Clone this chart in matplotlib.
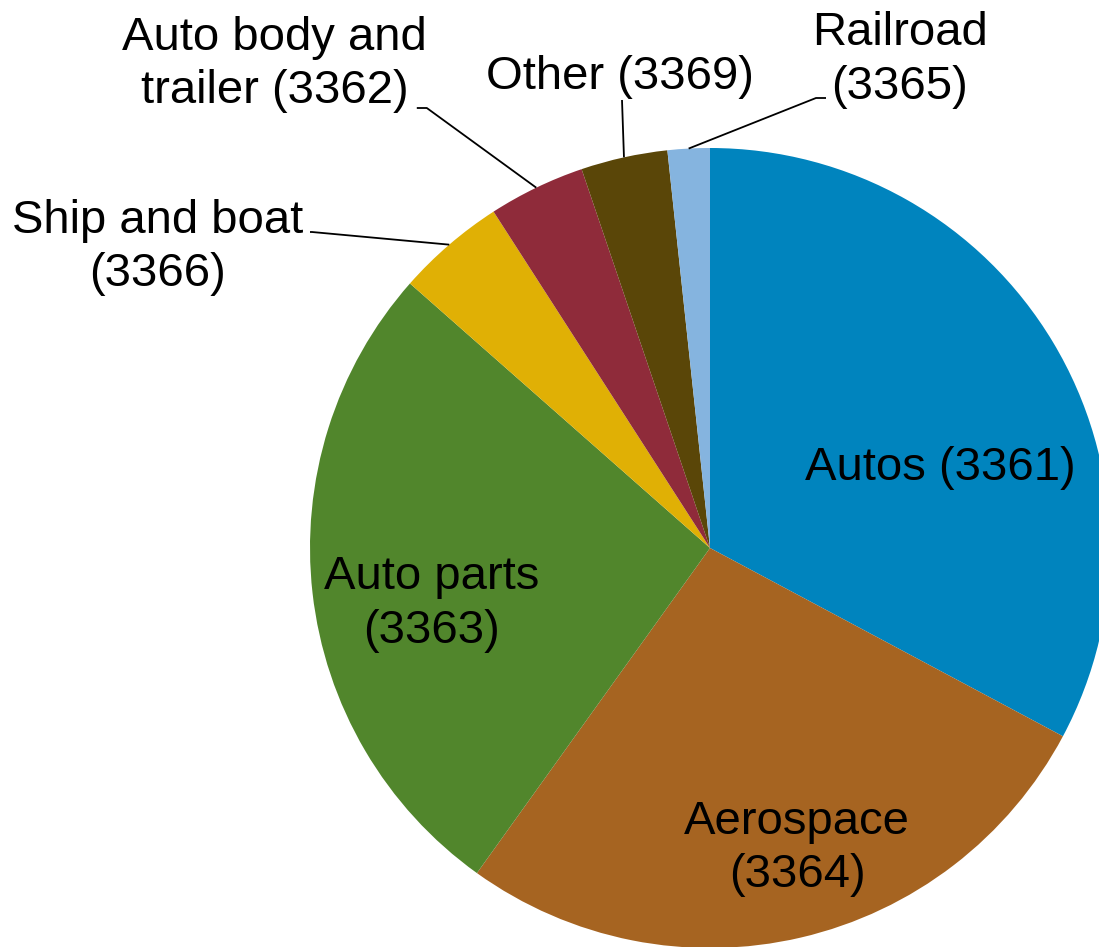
import numpy as np
import matplotlib
matplotlib.use('Agg')
import matplotlib.pyplot as plt

plt.rcParams['font.family'] = ['Liberation Sans', 'DejaVu Sans']

labels = ['Autos (3361)', 'Aerospace\n(3364)', 'Auto parts\n(3363)', 'Ship and boat\n(3366)',
          'Auto body and\ntrailer (3362)', 'Other (3369)', 'Railroad\n(3365)']
shares = [32.8, 27.1, 26.6, 4.4, 3.9, 3.5, 1.7]
colors = ['#0084BE', '#A66421', '#51862C', '#E0B005', '#8F2B3A', '#5A4608', '#85B4DF']

# label positions in pie radius units (centre = 0,0)
label_pos = [(0.575, 0.20), (0.218, -0.752), (-0.695, -0.14), (-1.38, 0.752),
             (-1.088, 1.208), (-0.225, 1.178), (0.475, 1.22)]
# elbow point of the leader line (None = label inside)
elbows = [None, None, None, (-0.995, 0.79), (-0.708, 1.10), (-0.22, 1.12), (0.265, 1.125)]
elbow_start = [None, None, None, (-1.0, 0.79), (-0.733, 1.10), (-0.22, 1.12), (0.29, 1.125)]

fig = plt.figure(figsize=(10.99, 9.47), dpi=100)
ax = fig.add_axes([310 / 1099, -1 / 947, 800 / 1099, 800 / 947])
wedges, _ = ax.pie(shares, colors=colors, startangle=90, counterclock=False,
                   radius=1, wedgeprops=dict(linewidth=0))
ax.set_xlim(-1, 1)
ax.set_ylim(-1, 1)
ax.set_aspect('equal')
ax.axis('off')

for i, w in enumerate(wedges):
    x, y = label_pos[i]
    ax.text(x, y, labels[i], ha='center', va='center', fontsize=34,
            linespacing=1.27, clip_on=False)
    if elbows[i] is not None:
        mid = np.deg2rad((w.theta1 + w.theta2) / 2)
        ex, ey = np.cos(mid), np.sin(mid)
        sx, sy = elbow_start[i]
        bx, by = elbows[i]
        ax.plot([sx, bx, ex], [sy, by, ey], color='black', lw=1.3,
                clip_on=False, solid_capstyle='butt')

fig.savefig('out.png', dpi=100)
